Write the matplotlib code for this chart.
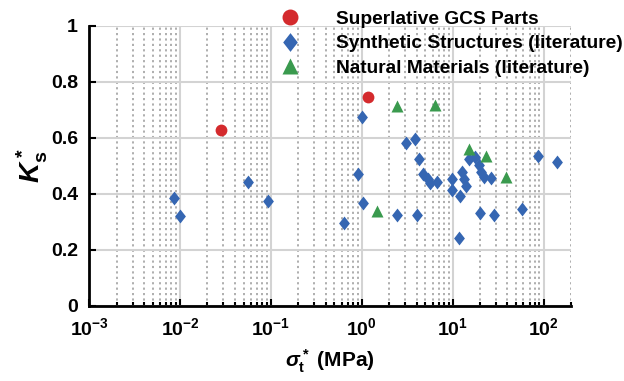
import matplotlib.pyplot as plt
from matplotlib.path import Path
from matplotlib.ticker import LogLocator, FixedLocator

plt.rcParams.update({
    'font.family': ['Liberation Sans', 'DejaVu Sans'],
    'font.weight': 'bold',
    'axes.labelweight': 'bold',
    'font.size': 12,
    'mathtext.fontset': 'custom',
    'mathtext.rm': 'Liberation Sans:bold',
    'mathtext.it': 'Liberation Sans:italic:bold',
    'mathtext.bf': 'Liberation Sans:bold',
    'legend.frameon': False,
})

# Superlative GCS parts
gcs_x = [0.028, 1.16]
gcs_y = [0.629, 0.747]

# Synthetic structures (literature)
syn_x = [0.0085, 0.010, 0.056, 0.092, 0.64, 0.90, 1.01, 1.04,
         2.43, 3.07, 3.89, 4.02, 4.27, 4.76, 5.36, 5.6, 6.79,
         9.9, 9.8, 11.7, 11.9, 12.5, 13.3, 14.1, 15.1, 17.4, 19.5,
         19.8, 20.7, 22.1, 26.6, 28.5, 58.2, 87.3, 141]
syn_y = [0.386, 0.320, 0.444, 0.375, 0.295, 0.470, 0.676, 0.369,
         0.325, 0.581, 0.596, 0.325, 0.525, 0.470, 0.452, 0.438, 0.444,
         0.454, 0.414, 0.242, 0.393, 0.480, 0.452, 0.429, 0.524, 0.533, 0.504,
         0.333, 0.480, 0.462, 0.458, 0.323, 0.345, 0.536, 0.513]

# Natural materials (literature)
nat_x = [1.47, 2.43, 6.46, 15.0, 23.1, 38.9]
nat_y = [0.340, 0.714, 0.718, 0.560, 0.536, 0.460]

labels = ['Superlative GCS Parts', 'Synthetic Structures (literature)',
          'Natural Materials (literature)']

RED = '#d42a2d'
BLUE = '#3566b2'
GREEN = '#3a9a4e'

# slightly tall diamond like the original
diamond = Path([(0, 1), (0.78, 0), (0, -1), (-0.78, 0), (0, 1)],
               [Path.MOVETO, Path.LINETO, Path.LINETO, Path.LINETO, Path.CLOSEPOLY])

fig = plt.figure(figsize=(6.24, 3.81), dpi=100)
ax = fig.add_axes([0.143, 0.197, 0.772, 0.735])

ax.plot(gcs_x, gcs_y, 'o', color=RED, ms=8.5, mec='none', label=labels[0], zorder=3)
ax.plot(syn_x, syn_y, ls='none', marker=diamond, color=BLUE, ms=10, mec='none',
        label=labels[1], zorder=3)
ax.plot(nat_x, nat_y, '^', color=GREEN, ms=9, mec='none', label=labels[2], zorder=3)

ax.set_xscale('log')
ax.set_xlim(1e-3, 2e2)
ax.set_ylim(0, 1)
ax.xaxis.set_major_locator(LogLocator(base=10, numticks=10))
ax.xaxis.set_minor_locator(LogLocator(base=10, subs=range(2, 10), numticks=20))
ax.yaxis.set_major_locator(FixedLocator([0, 0.2, 0.4, 0.6, 0.8, 1]))
ax.set_yticklabels(['0', '0.2', '0.4', '0.6', '0.8', '1'])

ax.grid(True, which='major', color='#d3d3d3', lw=1.5, ls='-')
ax.grid(True, which='minor', axis='x', color='#a8a8a8', lw=1.3, ls=(0, (1.2, 1.8)))
ax.set_axisbelow(True)

for s in ['top', 'right']:
    ax.spines[s].set_visible(False)
for s in ['left', 'bottom']:
    ax.spines[s].set_linewidth(2)
ax.tick_params(which='both', direction='in', labelsize=14, width=1.5)
ax.tick_params(which='major', length=5, pad=8)
ax.tick_params(which='minor', length=3)

ax.set_ylabel(r'$K_\mathrm{s}^*$', fontsize=20, labelpad=1)
ax.set_xlabel(r'$\sigma_\mathrm{t}^*$ (MPa)', fontsize=15, fontweight='bold', labelpad=6)

fig.legend(loc='upper left', bbox_to_anchor=(0.434, 0.972), fontsize=13.8,
           markerscale=1.35, handlelength=2.0, handletextpad=1.4,
           labelspacing=0.36, borderaxespad=0, borderpad=0)

fig.savefig('out.png', dpi=100)
